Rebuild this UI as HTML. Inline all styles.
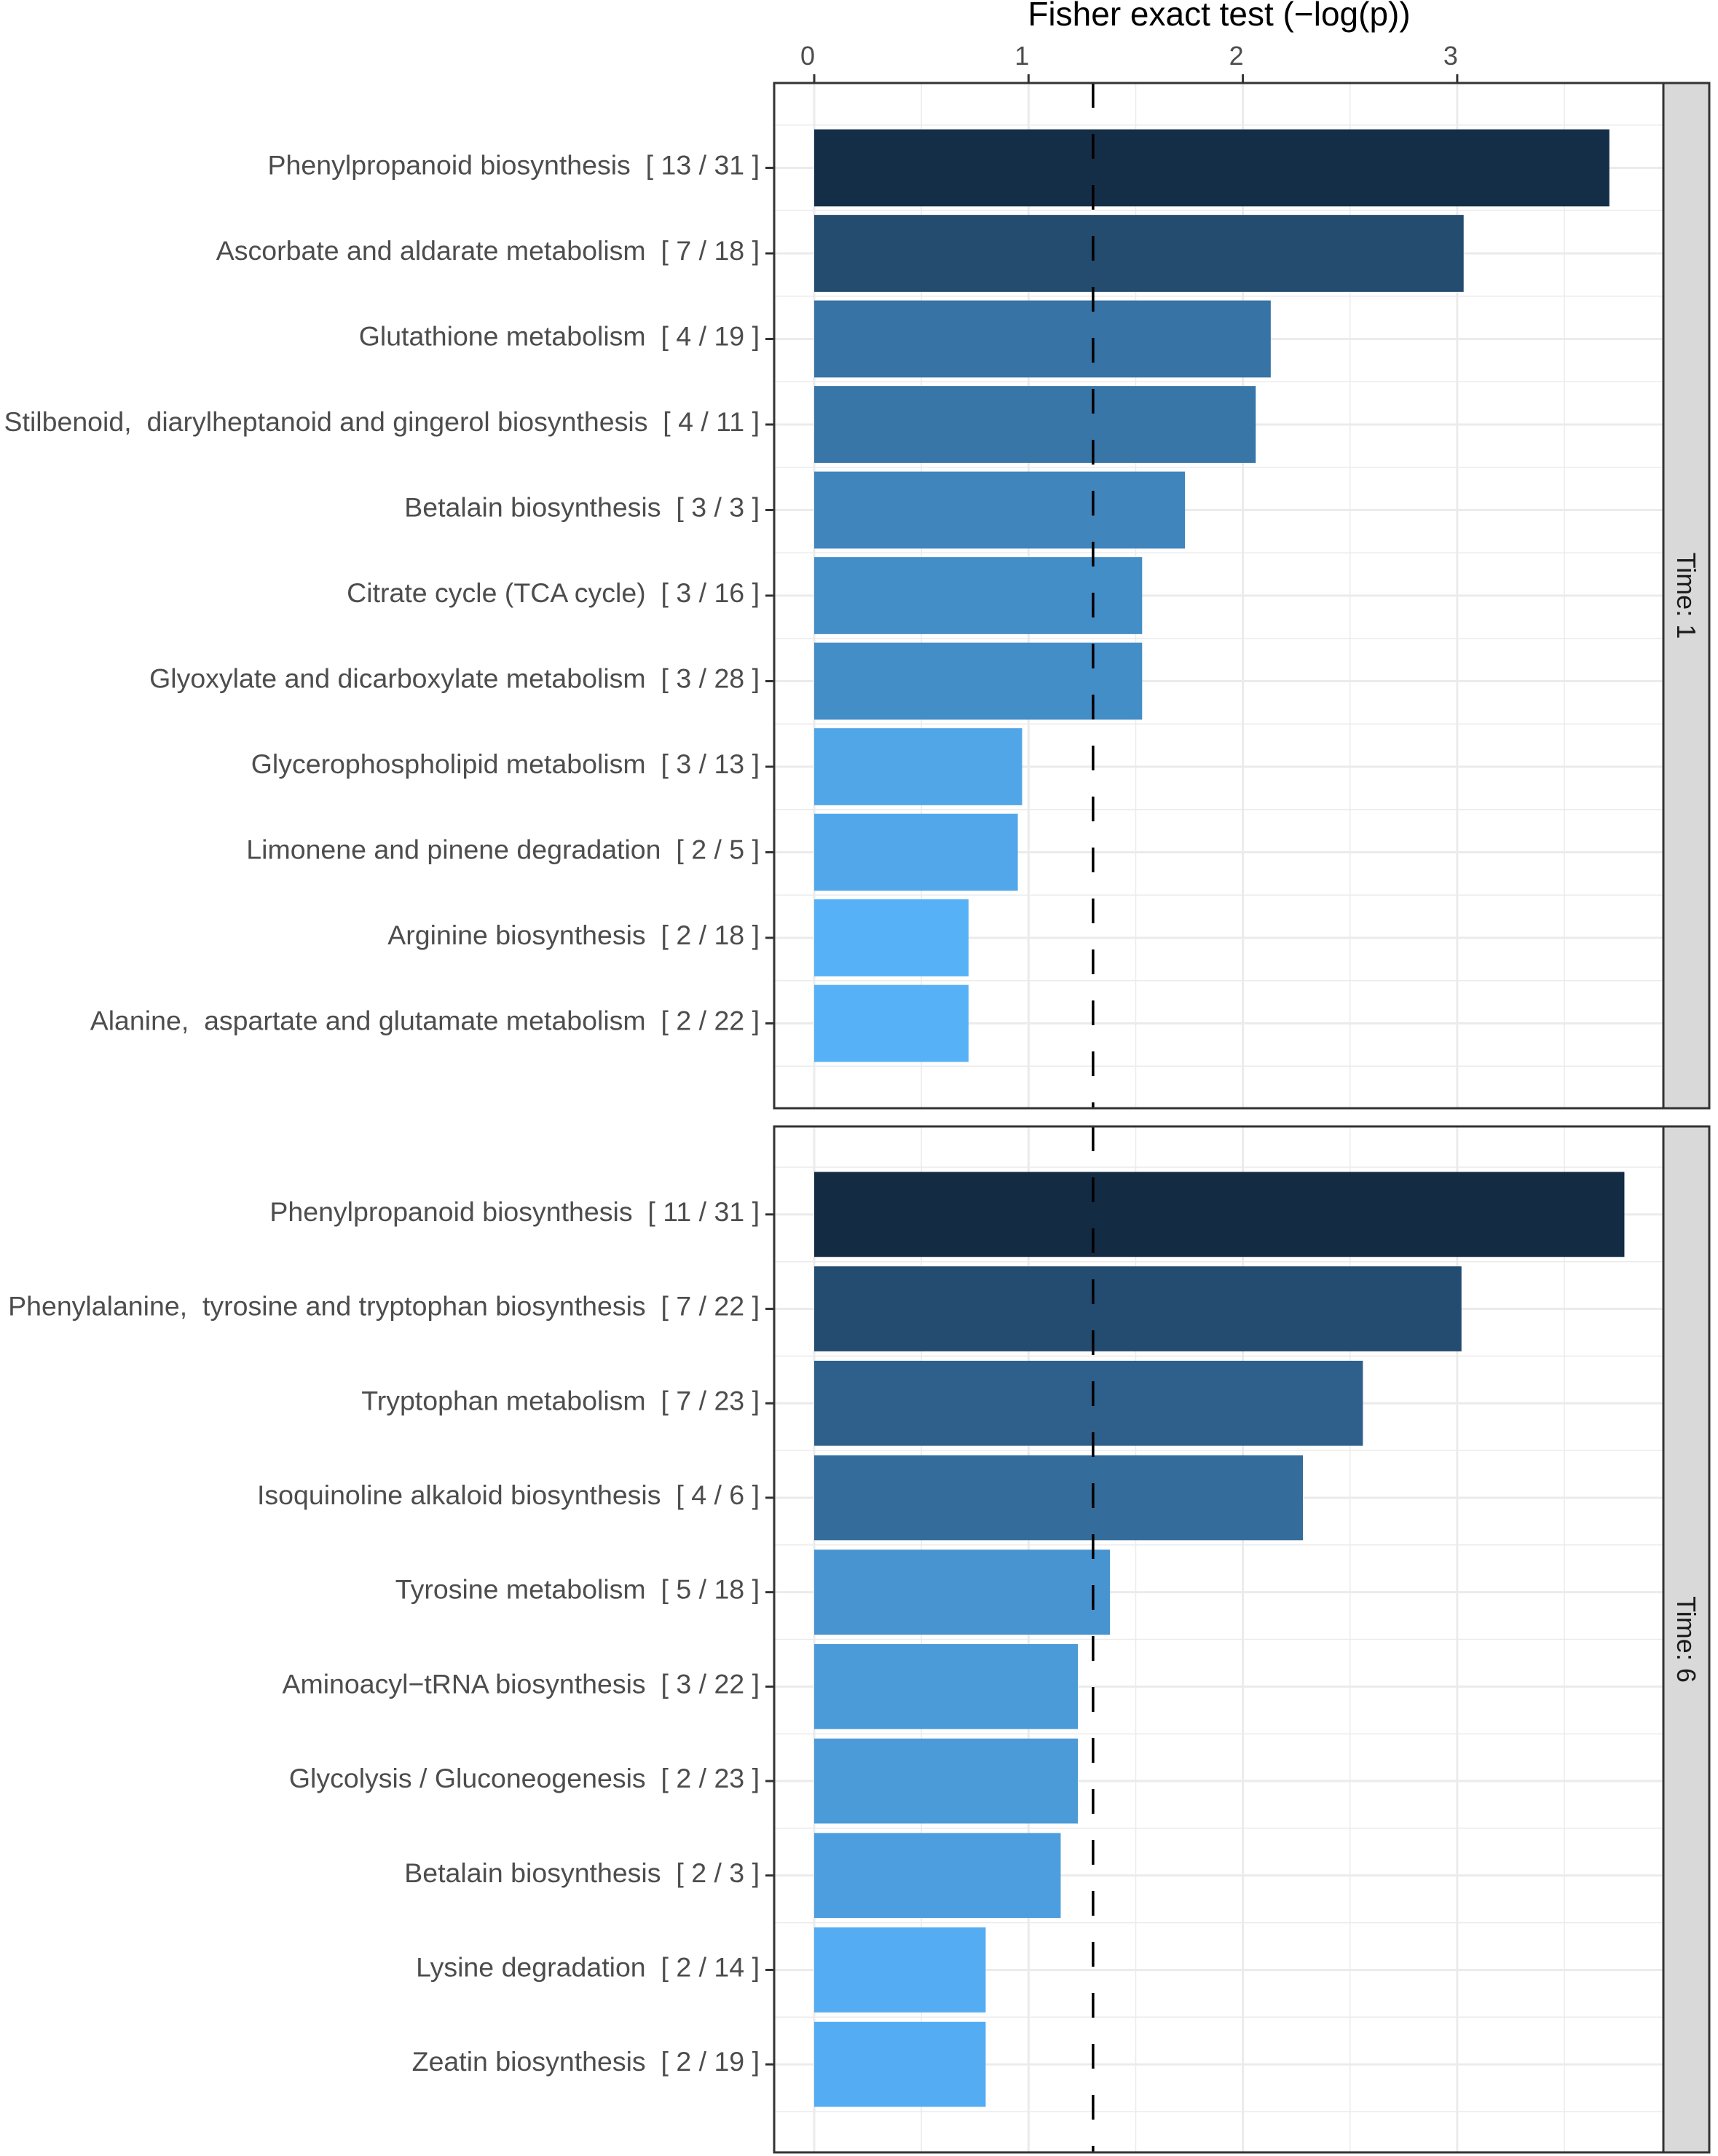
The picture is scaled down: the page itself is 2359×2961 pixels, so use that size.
<!DOCTYPE html>
<html><head><meta charset="utf-8"><style>
html,body{margin:0;padding:0;background:#fff}
svg{display:block;font-family:"Liberation Sans",Arial,sans-serif}
text{white-space:pre}
</style></head><body>
<svg id="chart" width="2359" height="2961" viewBox="0 0 2359 2961" xmlns="http://www.w3.org/2000/svg" xml:space="preserve"></svg>
<script>
const xTicks = [0, 1, 2, 3];
const threshold = 1.301;
const panelTitles = ["Time: 1", "Time: 6"];
const p1Labels = ["Phenylpropanoid biosynthesis  [ 13 / 31 ]","Ascorbate and aldarate metabolism  [ 7 / 18 ]","Glutathione metabolism  [ 4 / 19 ]","Stilbenoid,  diarylheptanoid and gingerol biosynthesis  [ 4 / 11 ]","Betalain biosynthesis  [ 3 / 3 ]","Citrate cycle (TCA cycle)  [ 3 / 16 ]","Glyoxylate and dicarboxylate metabolism  [ 3 / 28 ]","Glycerophospholipid metabolism  [ 3 / 13 ]","Limonene and pinene degradation  [ 2 / 5 ]","Arginine biosynthesis  [ 2 / 18 ]","Alanine,  aspartate and glutamate metabolism  [ 2 / 22 ]"];
const p1Values = [3.71, 3.03, 2.13, 2.06, 1.73, 1.53, 1.53, 0.97, 0.95, 0.72, 0.72];
const p2Labels = ["Phenylpropanoid biosynthesis  [ 11 / 31 ]","Phenylalanine,  tyrosine and tryptophan biosynthesis  [ 7 / 22 ]","Tryptophan metabolism  [ 7 / 23 ]","Isoquinoline alkaloid biosynthesis  [ 4 / 6 ]","Tyrosine metabolism  [ 5 / 18 ]","Aminoacyl\u2212tRNA biosynthesis  [ 3 / 22 ]","Glycolysis / Gluconeogenesis  [ 2 / 23 ]","Betalain biosynthesis  [ 2 / 3 ]","Lysine degradation  [ 2 / 14 ]","Zeatin biosynthesis  [ 2 / 19 ]"];
const p2Values = [3.78, 3.02, 2.56, 2.28, 1.38, 1.23, 1.23, 1.15, 0.80, 0.80];

const svg = document.getElementById('chart');
const NS = 'http://www.w3.org/2000/svg';
function mk(tag, attrs, parent){const e=document.createElementNS(NS,tag);for(const k in attrs)e.setAttribute(k,attrs[k]);(parent||svg).appendChild(e);return e;}
const X0=1118, UNIT=294.3;
const xs = v => X0 + v*UNIT;
const PL=1063, PR=2284;
const allVals = p1Values.concat(p2Values);
const vmin=Math.min(...allVals), vmax=Math.max(...allVals);
function col(v){const t=(v-vmin)/(vmax-vmin||1);const a=[0x56,0xB1,0xF7],b=[0x13,0x2B,0x43];
  return 'rgb('+a.map((c,i)=>Math.round(c+(b[i]-c)*t)).join(',')+')';}

const tt = mk('text',{x:1674,y:35,'font-size':46,fill:'#000','text-anchor':'middle'});


tt.textContent='Fisher exact test (\u2212log(p))';
xTicks.forEach(t=>{
  const l=mk('text',{x:xs(t)-9,y:89,'font-size':36,fill:'#4D4D4D','text-anchor':'middle'});
  
  
  l.textContent=t;
  mk('line',{x1:xs(t),x2:xs(t),y1:102,y2:114,stroke:'#333',"stroke-width":3});
});

const panels=[{top:114,bot:1522,band:117.5,labels:p1Labels,vals:p1Values},{top:1547,bot:2956,band:129.7,labels:p2Labels,vals:p2Values}];
panels.forEach((p,pi)=>{
  const g=mk('g',{});
  
  
  const n=p.labels.length, H=p.bot-p.top;
  const s=p.band, off=(H-(n-1)*s)/2;
  const ys=i=>p.top+off+i*s;
  mk('rect',{x:PL,y:p.top,width:PR-PL,height:H,fill:'#fff'},g);
  for(let v=0; xs(v)<PR; v+=0.5){
    const major = Math.abs(v-Math.round(v))<1e-6;
    mk('line',{x1:xs(v),x2:xs(v),y1:p.top,y2:p.bot,stroke:'#EBEBEB','stroke-width':major?3:1.5},g);
  }
  for(let i=0;i<=n;i++){mk('line',{x1:PL,x2:PR,y1:ys(i)-s/2,y2:ys(i)-s/2,stroke:'#EBEBEB','stroke-width':1.5},g);}
  for(let i=0;i<n;i++){mk('line',{x1:PL,x2:PR,y1:ys(i),y2:ys(i),stroke:'#EBEBEB','stroke-width':3},g);}
  p.vals.forEach((v,i)=>{
    const b=mk('rect',{x:xs(0),y:ys(i)-0.45*s,width:xs(v)-xs(0),height:0.9*s,fill:col(v)},g);
    
    
    const l=mk('text',{x:1043,y:ys(i)+9,'font-size':37.5,fill:'#4D4D4D','text-anchor':'end'},g);
    
    
    l.textContent=p.labels[i];
    mk('line',{x1:1051,x2:PL,y1:ys(i),y2:ys(i),stroke:'#333','stroke-width':3},g);
  });
  const d=mk('line',{x1:xs(threshold),x2:xs(threshold),y1:p.top,y2:p.bot,stroke:'#000','stroke-width':3.5,'stroke-dasharray':'34 36'},g);
  
  
  mk('rect',{x:PL,y:p.top,width:PR-PL,height:H,fill:'none',stroke:'#333','stroke-width':3},g);
  const st=mk('rect',{x:PR,y:p.top,width:2347-PR,height:H,fill:'#D9D9D9',stroke:'#333','stroke-width':3},g);
  
  
  const cy=(p.top+p.bot)/2;
  const sl=mk('text',{x:2315,y:cy,'font-size':36,fill:'#1A1A1A','text-anchor':'middle',transform:'rotate(90 2315 '+cy+')',dy:12},g);
  
  
  sl.textContent=panelTitles[pi];
});
</script>
</body></html>
